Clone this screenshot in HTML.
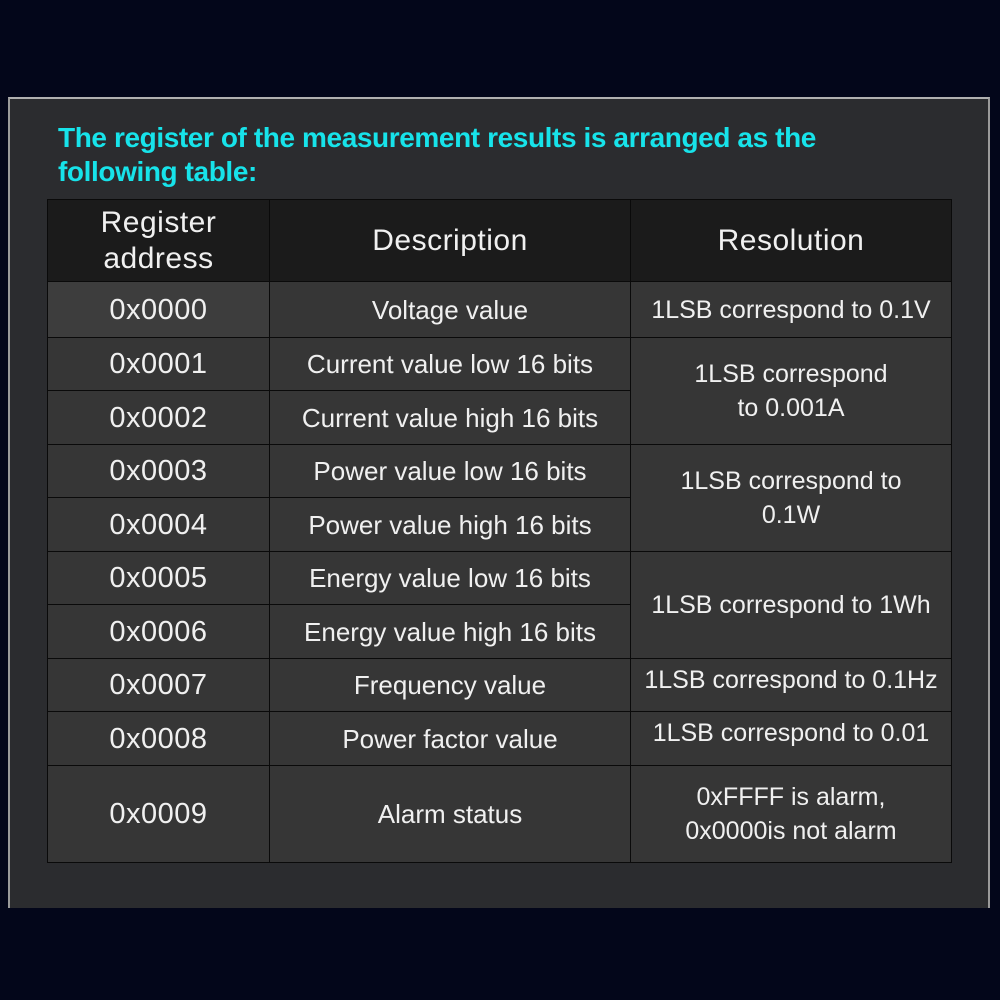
<!DOCTYPE html><html><head><meta charset="utf-8"><style>
body{margin:0;width:1000px;height:1000px;background:#03061a;position:relative;overflow:hidden;font-family:"Liberation Sans","Noto Sans CJK SC",sans-serif}
#panel{position:absolute;left:8px;top:97px;width:982px;height:811px;background:#2b2c2f;border-left:2px solid #9a9a9a;border-top:2px solid #b0b0b0;border-right:2px solid #9a9a9a;box-sizing:border-box}
.t{position:absolute;left:58px;color:#17e3ea;font-weight:bold;font-size:28px;line-height:34px;top:121px;letter-spacing:-0.4px}
.c{position:absolute;background:#363636;color:#f0f0f0;display:flex;align-items:center;justify-content:center;text-align:center;box-sizing:border-box;border:1.5px solid #0a0a0a;font-size:26px;line-height:34px}
.h{background:#1b1b1b;font-size:30px;line-height:36px;letter-spacing:0.5px}
.a{font-size:29px;letter-spacing:0.5px}
.r{font-size:25px}
</style></head><body>
<div id="panel"></div>
<div class="t">The register of the measurement results is arranged as the<br>following table:</div>
<div class="c h" style="left:47px;top:199px;width:223px;height:83px">Register<br>address</div>
<div class="c h" style="left:269px;top:199px;width:362px;height:83px">Description</div>
<div class="c h" style="left:630px;top:199px;width:322px;height:83px">Resolution</div>

<div class="c a" style="left:47px;top:281px;width:223px;height:57px;background:#3d3d3d">0x0000</div>
<div class="c a" style="left:47px;top:337px;width:223px;height:54px">0x0001</div>
<div class="c a" style="left:47px;top:390px;width:223px;height:55px">0x0002</div>
<div class="c a" style="left:47px;top:444px;width:223px;height:54px">0x0003</div>
<div class="c a" style="left:47px;top:497px;width:223px;height:55px">0x0004</div>
<div class="c a" style="left:47px;top:551px;width:223px;height:54px">0x0005</div>
<div class="c a" style="left:47px;top:604px;width:223px;height:55px">0x0006</div>
<div class="c a" style="left:47px;top:658px;width:223px;height:54px">0x0007</div>
<div class="c a" style="left:47px;top:711px;width:223px;height:55px">0x0008</div>
<div class="c a" style="left:47px;top:765px;width:223px;height:98px">0x0009</div>

<div class="c" style="left:269px;top:281px;width:362px;height:57px">Voltage value</div>
<div class="c" style="left:269px;top:337px;width:362px;height:54px">Current value low 16 bits</div>
<div class="c" style="left:269px;top:390px;width:362px;height:55px">Current value high 16 bits</div>
<div class="c" style="left:269px;top:444px;width:362px;height:54px">Power value low 16 bits</div>
<div class="c" style="left:269px;top:497px;width:362px;height:55px">Power value high 16 bits</div>
<div class="c" style="left:269px;top:551px;width:362px;height:54px">Energy value low 16 bits</div>
<div class="c" style="left:269px;top:604px;width:362px;height:55px">Energy value high 16 bits</div>
<div class="c" style="left:269px;top:658px;width:362px;height:54px">Frequency value</div>
<div class="c" style="left:269px;top:711px;width:362px;height:55px">Power factor value</div>
<div class="c" style="left:269px;top:765px;width:362px;height:98px">Alarm status</div>

<div class="c r" style="left:630px;top:281px;width:322px;height:57px">1LSB correspond to 0.1V</div>
<div class="c r" style="left:630px;top:337px;width:322px;height:108px">1LSB correspond<br>to 0.001A</div>
<div class="c r" style="left:630px;top:444px;width:322px;height:108px">1LSB correspond to<br>0.1W</div>
<div class="c r" style="left:630px;top:551px;width:322px;height:108px">1LSB correspond to 1Wh</div>
<div class="c r" style="left:630px;top:658px;width:322px;height:54px;align-items:flex-start;padding-top:4px">1LSB correspond to 0.1Hz</div>
<div class="c r" style="left:630px;top:711px;width:322px;height:55px;align-items:flex-start;padding-top:4px">1LSB correspond to 0.01</div>
<div class="c r" style="left:630px;top:765px;width:322px;height:98px">0xFFFF is alarm,<br>0x0000is not alarm</div>
</body></html>
